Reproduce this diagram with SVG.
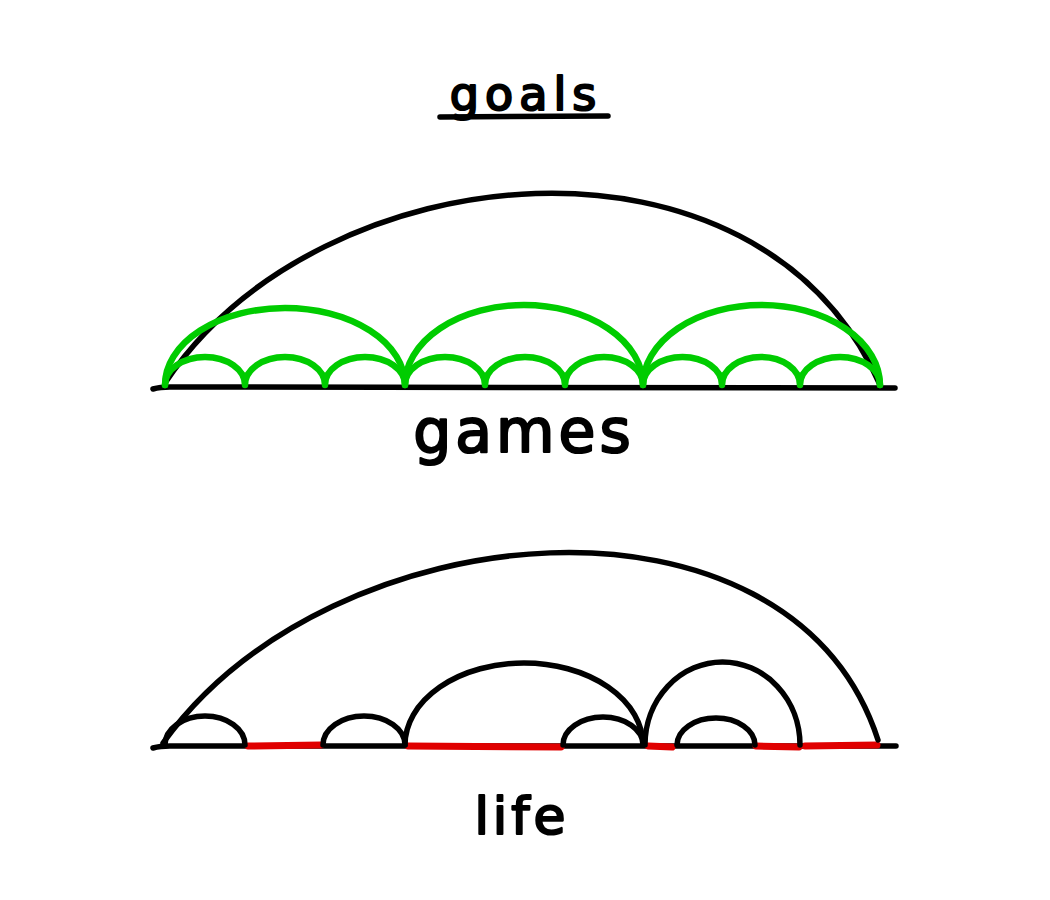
<svg xmlns="http://www.w3.org/2000/svg" width="1050" height="900" viewBox="0 0 1050 900">
<style>
.bg{fill:#fff}
.blk{fill:none;stroke:#000;stroke-width:5.5;stroke-linecap:round;stroke-linejoin:round}
.base{fill:none;stroke:#000;stroke-width:5.5;stroke-linecap:round}
.grn{fill:none;stroke:#00cc00;stroke-width:6.5;stroke-linecap:round;stroke-linejoin:round}
.red{fill:none;stroke:#e00000;stroke-width:7;stroke-linecap:round}
.lbl{font-family:"DejaVu Sans","Liberation Sans",sans-serif;fill:#000;stroke:#000;stroke-width:2.2;stroke-linejoin:round;text-anchor:middle}
</style>
<rect class="bg" x="0" y="0" width="1050" height="900"/>

<g id="title">
  <text class="lbl" x="526" y="110" font-size="46" letter-spacing="6">goals</text>
  <path class="blk" d="M440 117 L608 116"/>
</g>

<g id="games">
  <path class="base" d="M153 389 Q160 387 170 387 L895 388"/>
  <path class="blk" d="M165 383 C320 150 760 110 880 385"/>
  <g id="games-small">
    <path class="grn" d="M165 385 A40 28 0 0 1 245 385 A40 28 0 0 1 325 385 A40 28 0 0 1 405 385 A40 28 0 0 1 485 385 A40 28 0 0 1 565 385 A39 28 0 0 1 643 385 A39.5 28 0 0 1 722 385 A39 28 0 0 1 800 385 A40 28 0 0 1 880 385"/>
  </g>
  <g id="games-big">
    <path class="grn" d="M165 385 A120 77 0 0 1 405 385 A119 80 0 0 1 643 385 A118.5 80 0 0 1 880 385"/>
  </g>
  <text class="lbl" x="524" y="452" font-size="60" letter-spacing="4">games</text>
</g>

<g id="life">
  <path class="base" d="M153 748 Q160 746 170 746 L896 746"/>
  <g id="life-red">
    <path class="red" d="M248 746 L321 745"/>
    <path class="red" d="M408 746 L561 747"/>
    <path class="red" d="M648 746 L672 747"/>
    <path class="red" d="M756 746 L799 747"/>
    <path class="red" d="M805 746 L877 745"/>
  </g>
  <path class="blk" d="M163 743 C330 510 790 470 878 740"/>
  <path class="blk" d="M165 745 A40 29 0 0 1 245 745"/>
  <path class="blk" d="M323 745 A41 29 0 0 1 405 745"/>
  <path class="blk" d="M405 745 A119 82 0 0 1 643 745"/>
  <path class="blk" d="M563 745 A40 28 0 0 1 643 745"/>
  <path class="blk" d="M645 745 A77.5 83 0 0 1 800 745"/>
  <path class="blk" d="M677 745 A39 27 0 0 1 755 745"/>
  <text class="lbl" x="522" y="834" font-size="52" letter-spacing="4">life</text>
</g>
</svg>
